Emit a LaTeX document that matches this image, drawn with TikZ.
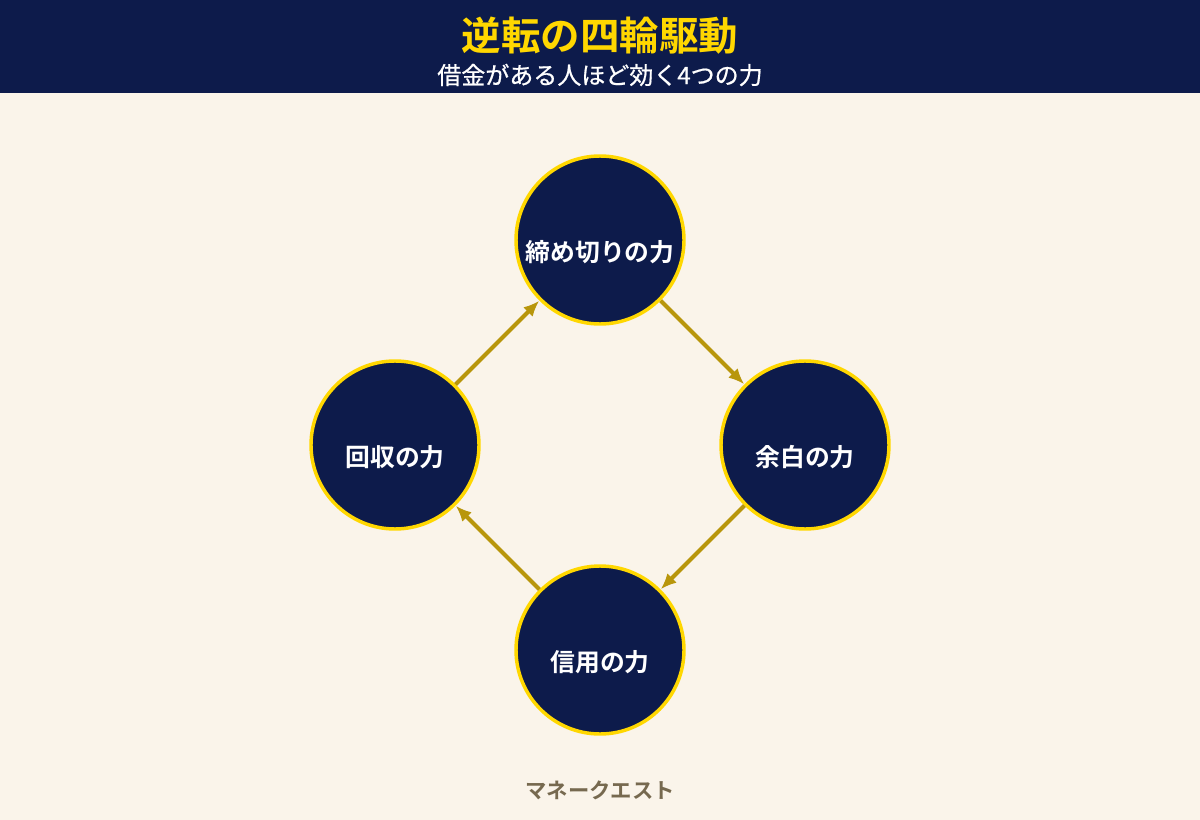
\documentclass[tikz,border=0pt]{standalone}
\usepackage{fontspec}
\setmainfont{Noto Sans CJK JP}[BoldFont={Noto Sans CJK JP Bold}]
\newfontfamily\subfont{Noto Sans CJK JP}[FakeBold=0.7]
\usetikzlibrary{arrows.meta}
\definecolor{navy}{HTML}{0D1B4B}
\definecolor{gold}{HTML}{FFD700}
\definecolor{arrowc}{HTML}{B8960C}
\definecolor{bg}{HTML}{FAF4EA}
\definecolor{foot}{HTML}{76694F}
\tikzset{
  wheel/.style={circle, fill=navy, draw=gold, line width=2.6pt, minimum size=126pt, inner sep=0pt},
  wlabel/.style={text=white, font=\bfseries\fontsize{18.6}{21}\selectfont, inner sep=0pt},
  arr/.style={draw=arrowc, line width=3pt, -{Latex[length=12pt,width=10pt]}},
}
\begin{document}
\begin{tikzpicture}[x=0.75pt,y=-0.75pt]
\useasboundingbox (0,0) rectangle (1200,820);
\fill[bg] (0,0) rectangle (1200,820);
\fill[navy] (0,0) rectangle (1200,93);
\node[text=gold, font=\bfseries\fontsize{29.6}{32}\selectfont, inner sep=0pt] (title) at (600,36) {逆転の四輪駆動};
\node[text=white, font=\subfont\fontsize{18}{20}\selectfont, inner sep=0pt] (sub) at (600,75) {借金がある人ほど効く4つの力};

\node[wheel] (top) at (600,240) {};
\node[wheel] (right) at (805,445) {};
\node[wheel] (bottom) at (600,650) {};
\node[wheel] (left) at (395,445) {};

\node[wlabel] (ltop) at ([yshift=-9pt]top.center) {締め切りの力};
\node[wlabel] (lright) at ([yshift=-9pt]right.center) {余白の力};
\node[wlabel] (lbottom) at ([yshift=-9pt]bottom.center) {信用の力};
\node[wlabel] (lleft) at ([yshift=-9pt]left.center) {回収の力};

\draw[arr] (top) -- (right);
\draw[arr] (right) -- (bottom);
\draw[arr] (bottom) -- (left);
\draw[arr] (left) -- (top);

\node[text=foot, font=\bfseries\fontsize{16}{18}\selectfont, inner sep=0pt] (footer) at (600,790) {マネークエスト};
\end{tikzpicture}
\end{document}
